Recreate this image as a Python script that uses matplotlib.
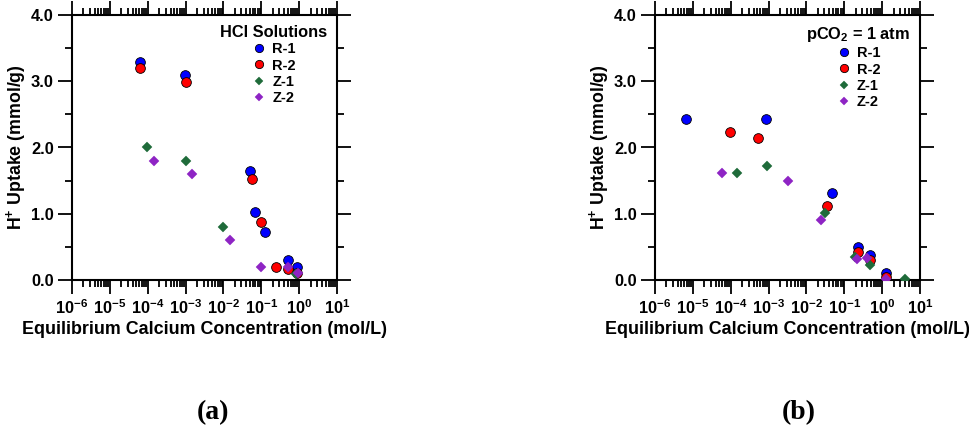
"""
H+ uptake vs equilibrium calcium concentration, (a) HCl and (b) pCO2 = 1 atm
"""

import matplotlib.pyplot as plt
from matplotlib.ticker import LogLocator, MultipleLocator, NullFormatter

plt.rcParams['font.family'] = ['Liberation Sans', 'DejaVu Sans']
plt.rcParams['font.weight'] = 'bold'
plt.rcParams['mathtext.fontset'] = 'custom'
plt.rcParams['mathtext.rm'] = 'Liberation Sans:bold'
plt.rcParams['mathtext.bf'] = 'Liberation Sans:bold'
plt.rcParams['mathtext.it'] = 'Liberation Sans:bold'
plt.rcParams['mathtext.default'] = 'rm'
plt.rcParams['axes.unicode_minus'] = False

# (a) HCl solutions
a_r1_x = [6.2e-5, 9.5e-4, 0.049, 0.069, 0.126, 0.50, 0.89]
a_r1_y = [3.29, 3.10, 1.65, 1.02, 0.73, 0.30, 0.20]
a_r2_x = [6.2e-5, 1.0e-3, 0.056, 0.098, 0.24, 0.50, 0.89]
a_r2_y = [3.20, 2.99, 1.53, 0.88, 0.20, 0.16, 0.11]
a_z1_x = [9.8e-5, 1.0e-3, 0.0098, 0.83]
a_z1_y = [2.00, 1.80, 0.80, 0.085]
a_z2_x = [1.45e-4, 1.48e-3, 0.0149, 0.10, 0.50, 0.92]
a_z2_y = [1.80, 1.60, 0.60, 0.20, 0.20, 0.10]

# (b) pCO2 = 1 atm
b_r1_x = [6.6e-6, 8.3e-4, 0.046, 0.226, 0.49, 1.25]
b_r1_y = [2.43, 2.43, 1.31, 0.50, 0.38, 0.10]
b_r2_x = [9.3e-5, 5.4e-4, 0.035, 0.226, 0.49, 1.25]
b_r2_y = [2.24, 2.14, 1.12, 0.42, 0.30, 0.05]
b_z1_x = [1.45e-4, 9.3e-4, 0.031, 0.19, 0.49, 3.9]
b_z1_y = [1.61, 1.72, 1.01, 0.34, 0.22, 0.015]
b_z2_x = [6.0e-5, 3.2e-3, 0.0236, 0.22, 0.41, 1.25]
b_z2_y = [1.62, 1.50, 0.90, 0.31, 0.33, 0.01]

labels = ['R-1', 'R-2', 'Z-1', 'Z-2']
colors = ['#0000ff', '#ff0000', '#1f6b3a', '#8e24c4']

fig = plt.figure(figsize=(9.69, 4.38), dpi=100)
W, H = 969, 438


def panel(left, series, title, tag, tag_x):
    ax = fig.add_axes([left / W, (H - 280) / H, 265 / W, 265 / H])
    for (x, y), lab, col in zip(series, labels, colors):
        if lab.startswith('R'):
            ax.plot(x, y, 'o', ms=7, mfc=col, mec='black', mew=0.6,
                    ls='none', label=lab, zorder=3)
        else:
            ax.plot(x, y, 'D', ms=4.8, mfc=col, mec=col, mew=0.3,
                    ls='none', label=lab, zorder=3)
    ax.set_xscale('log')
    ax.set_xlim(1e-6, 1e1)
    ax.set_ylim(0, 4)
    ax.xaxis.set_major_locator(LogLocator(base=10, numticks=20))
    ax.xaxis.set_minor_locator(LogLocator(base=10, subs=range(2, 10), numticks=20))
    ax.xaxis.set_minor_formatter(NullFormatter())
    ax.yaxis.set_major_locator(MultipleLocator(1.0))
    ax.yaxis.set_minor_locator(MultipleLocator(0.5))
    ax.yaxis.set_major_formatter(lambda v, p: f'{v:.1f}')
    ax.tick_params(which='both', direction='out', top=True, right=True,
                   width=1.3, labelsize=11.8, pad=3)
    ax.tick_params(which='major', length=10)
    ax.tick_params(which='minor', length=5)
    for s in ax.spines.values():
        s.set_linewidth(1.5)
    ax.set_xlabel('Equilibrium Calcium Concentration (mol/L)', fontsize=12.9,
                  fontweight='bold', labelpad=3)
    ax.set_ylabel('H$^{+}$ Uptake (mmol/g)', fontsize=12.8, fontweight='bold')
    ax.yaxis.set_label_coords(-44 / 265, 0.5)
    leg = ax.legend(loc='upper right', bbox_to_anchor=(1.0, 1.0), frameon=False,
                    title=title, fontsize=10.5, title_fontsize=11.8,
                    handletextpad=0.3, labelspacing=0.15, borderaxespad=0.3,
                    handlelength=1.2, markerscale=0.85)
    leg.get_title().set_fontweight('bold')
    fig.text(tag_x / W, 1 - 413 / H, tag, fontsize=20, fontweight='bold',
             family=['Liberation Serif', 'DejaVu Serif'], ha='center', va='center')
    return ax


panel(72, [(a_r1_x, a_r1_y), (a_r2_x, a_r2_y), (a_z1_x, a_z1_y), (a_z2_x, a_z2_y)],
      'HCl Solutions', '(a)', 213)
panel(655, [(b_r1_x, b_r1_y), (b_r2_x, b_r2_y), (b_z1_x, b_z1_y), (b_z2_x, b_z2_y)],
      'pCO$_{2}$ = 1 atm', '(b)', 799)

plt.savefig('out.png', dpi=100)
